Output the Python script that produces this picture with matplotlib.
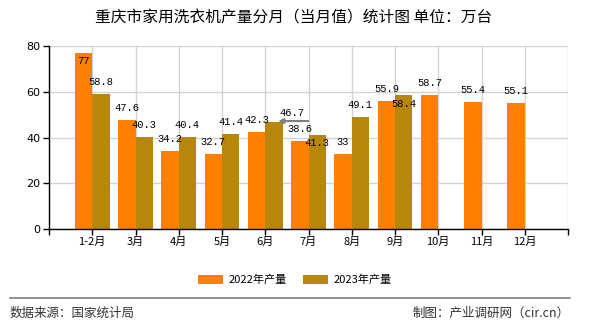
import matplotlib
matplotlib.use('Agg')
from matplotlib import pyplot as plt
import numpy as np

# chart data
months = ['1-2月', '3月', '4月', '5月', '6月', '7月', '8月', '9月', '10月', '11月', '12月']
prod2022 = [77, 47.6, 34.2, 32.7, 42.3, 38.6, 33, 55.9, 58.7, 55.4, 55.1]
prod2023 = [58.8, 40.3, 40.4, 41.4, 46.7, 41.3, 49.1, 58.4]
yticks = [0, 20, 40, 60, 80]

cjk = ['Noto Sans CJK SC', 'DejaVu Sans']
mono = 'Liberation Mono'
c22 = '#ff8000'
c23 = '#b8860b'

fig = plt.figure(figsize=(5.9, 3.3), dpi=100)
ax = fig.add_axes([49/590, 101/330, 519/590, 183/330])

x = np.arange(1, len(months) + 1)
w = 0.4
ax.bar(x - w/2, prod2022, width=w, color=c22, label='2022年产量', zorder=2)
ax.bar(x[:len(prod2023)] + w/2, prod2023, width=w, color=c23, label='2023年产量', zorder=2)

# value labels, pixel offsets from bar top (converted to points)
px = 0.72
for i, v in enumerate(prod2022):
    dy = 8 if i == 0 else -12
    ax.annotate(str(v), (x[i] - w/2, v), xytext=(0, -dy*px), textcoords='offset points',
                ha='center', va='center', fontsize=7.5, family=mono, zorder=4)
for i, v in enumerate(prod2023):
    if i == 4:
        # label moved aside with a leader line
        ax.annotate('', (x[i] + 0.3, v + 0.5), xytext=(30*px, 0), textcoords='offset points',
                    arrowprops=dict(arrowstyle='-|>', color='#808080', lw=1.5,
                                    mutation_scale=7, shrinkA=0, shrinkB=0), zorder=4)
        ax.annotate(str(v), (x[i] + w/2, v), xytext=(18*px, 9*px), textcoords='offset points',
                    ha='center', va='center', fontsize=7.5, family=mono, zorder=4)
        continue
    dy = 8.5 if i in (5, 7) else -12
    ax.annotate(str(v), (x[i] + w/2, v), xytext=(0, -dy*px), textcoords='offset points',
                ha='center', va='center', fontsize=7.5, family=mono, zorder=4)

ax.set_xlim(0, 12)
ax.set_ylim(0, 80)
ax.set_xticks(range(0, 13))
ax.set_xticklabels([''] + months + [''], family=cjk, fontsize=8)
ax.set_yticks(yticks)
ax.set_yticklabels([str(t) for t in yticks], fontsize=8, family='DejaVu Sans')
ax.tick_params(axis='both', length=4, width=1, color='black', pad=2)
ax.grid(True, color='#d3d3d3', lw=1, zorder=0)
ax.set_axisbelow(True)
for s in ['top', 'right']:
    ax.spines[s].set_visible(False)
for s in ['left', 'bottom']:
    ax.spines[s].set_color('black')
    ax.spines[s].set_linewidth(1)

fig.text(0.498, 0.945, '重庆市家用洗衣机产量分月（当月值）统计图 单位：万台',
         ha='center', va='center', fontsize=11.3, family=cjk)

leg = fig.legend(loc='center', bbox_to_anchor=(0.5, 50/330), ncol=2,
                 frameon=False, prop={'family': cjk, 'size': 8},
                 handlelength=2.2, handleheight=0.9, columnspacing=1.5, handletextpad=0.5)

fig.add_artist(plt.Line2D([10/590, 570/590], [32/330, 32/330], color='#808080', lw=1.2))
fig.text(10/590, 17/330, '数据来源：国家统计局', ha='left', va='center', fontsize=9,
         family=cjk, color='#333333')
fig.text(570/590, 17/330, '制图：产业调研网（cir.cn）', ha='right', va='center', fontsize=9,
         family=cjk, color='#333333')

fig.savefig('out.png', dpi=100)
